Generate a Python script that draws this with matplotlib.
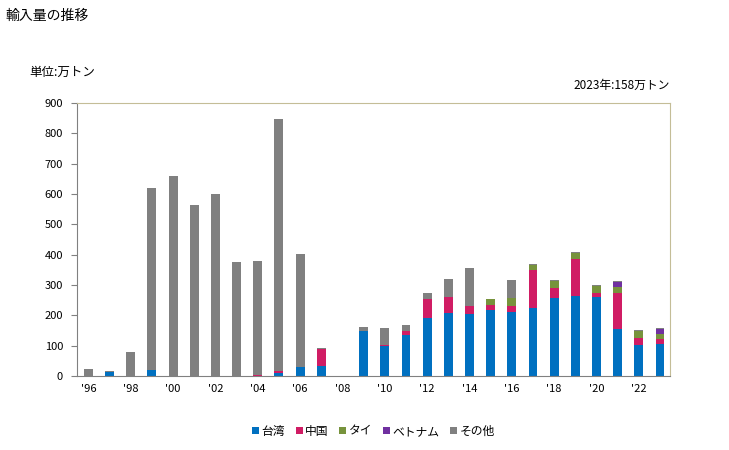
import numpy as np
import matplotlib.pyplot as plt

plt.rcParams['font.family'] = ['Noto Sans CJK JP', 'DejaVu Sans']

# 年と各国の輸入量（万トン）
years = np.arange(1996, 2024)
taiwan = [0, 14, 0, 20, 0, 0, 0, 0, 0, 9, 31, 34, 0, 148, 100, 135, 192, 208, 205, 219,
          212, 225, 258, 265, 260, 155, 102, 107]
china = [0, 0, 0, 0, 0, 0, 0, 0, 3, 7, 0, 55, 0, 0, 3, 14, 62, 52, 26, 15,
         20, 124, 32, 121, 14, 119, 23, 15]
thai = [0, 0, 0, 0, 0, 0, 0, 0, 0, 0, 0, 0, 0, 0, 0, 0, 0, 0, 0, 20,
        25, 17, 23, 19, 24, 19, 23, 16]
vietnam = [0, 0, 0, 0, 0, 0, 0, 0, 0, 0, 0, 0, 0, 0, 0, 0, 0, 0, 0, 0,
           0, 0, 0, 0, 0, 17, 0, 17]
other = [23, 3, 79, 600, 660, 564, 600, 376, 376, 831, 371, 3, 0, 13, 55, 19, 20, 60, 125, 1,
         60, 3, 4, 4, 2, 3, 4, 3]

series = [taiwan, china, thai, vietnam, other]
names = ['台湾', '中国', 'タイ', 'ベトナム', 'その他']
colors = ['#0070c0', '#d01c64', '#77933c', '#7030a0', '#808080']

fig = plt.figure(figsize=(7.29, 4.5), dpi=100)
ax = fig.add_axes([0.1056, 0.1644, 0.8134, 0.6067])

bottom = np.zeros(len(years))
for vals, name, c in zip(series, names, colors):
    vals = np.array(vals, dtype=float)
    ax.bar(years, vals, width=0.42, bottom=bottom, color=c, label=name)
    bottom += vals

ax.set_xlim(1995.46, 2023.47)
ax.set_ylim(0, 900)
ax.set_yticks(np.arange(0, 901, 100))
xt = np.arange(1996, 2023, 2)
ax.set_xticks(xt)
ax.set_xticklabels(["'%02d" % (y % 100) for y in xt])

ax.tick_params(axis='y', length=4, color='#808080', labelsize=8, pad=6)
ax.tick_params(axis='x', length=0, labelsize=8, pad=6)
for s in ['left', 'bottom']:
    ax.spines[s].set_color('#808080')
for s in ['top', 'right']:
    ax.spines[s].set_color('#c4bd97')

fig.text(0.008, 0.965, '輸入量の推移', fontsize=10, va='center')
fig.text(0.04, 0.84, '単位:万トン', fontsize=9, va='center')
fig.text(0.919, 0.81, '2023年:158万トン', fontsize=8.5, va='center', ha='right')

ax.legend(loc='upper center', bbox_to_anchor=(0.5, -0.14), ncol=5, frameon=False,
          fontsize=8.5, handlelength=0.6, handleheight=0.6, handletextpad=0.2,
          columnspacing=0.9)

fig.savefig('out.png')
